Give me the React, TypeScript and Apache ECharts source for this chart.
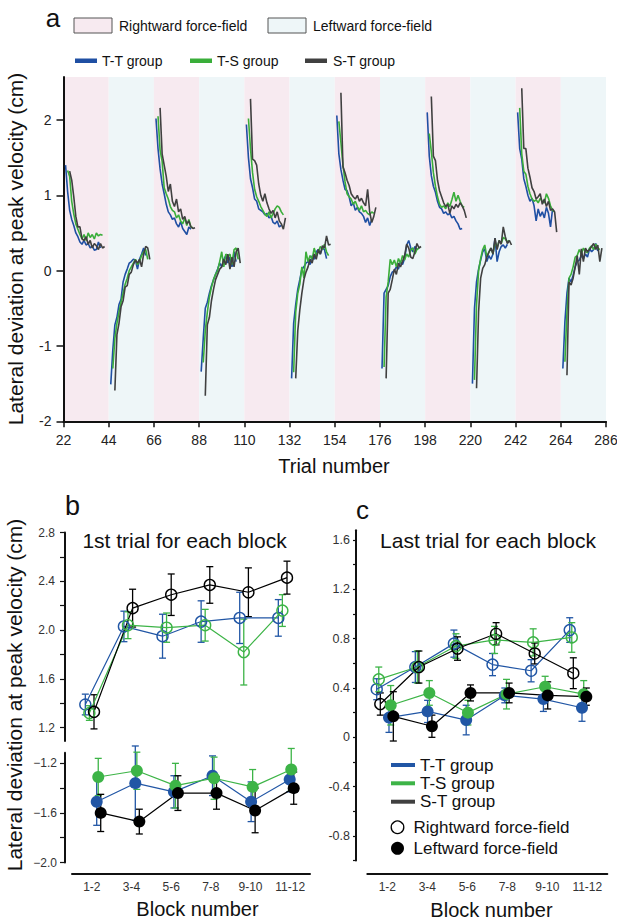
import React, { useEffect, useRef } from "react";
import * as echarts from "echarts";

const FONT = "'Liberation Sans', Arial, Helvetica, sans-serif";
const C_TT = "#1f4fa3";
const C_TS = "#3aae3a";
const C_ST = "#404040";
const C_TT_B = "#2156a5";
const C_TS_B = "#3db447";
const C_ST_B = "#000000";
const PINK = "#f7eaf0";
const ICE = "#eef6f8";

// ---------- Panel a ----------
const A_X_TICKS = [22, 44, 66, 88, 110, 132, 154, 176, 198, 220, 242, 264, 286];
const A_FIELDS = ["R", "L", "R", "L", "R", "L", "R", "L", "R", "L", "R", "L"];
const A_Y_TICKS = [-2, -1, 0, 1, 2];
const BLOCK_STARTS = [23, 45, 67, 89, 111, 133, 155, 177, 199, 221, 243, 265];
const GROUP_TRIAL_OFFSET = [0, 1, 2];

const TT_CURVES = [
  [1.40, 1.05, 0.80, 0.68, 0.60, 0.50, 0.45, 0.38, 0.35, 0.40, 0.34, 0.36, 0.30, 0.33, 0.27, 0.28, 0.38, 0.30],
  [-1.51, -1.05, -0.72, -0.62, -0.45, -0.38, -0.15, -0.05, 0.02, 0.10, 0.12, 0.15, 0.14, 0.02, 0.15, 0.22, 0.30, 0.20],
  [2.02, 1.62, 1.35, 1.15, 1.02, 0.88, 0.78, 0.74, 0.68, 0.70, 0.62, 0.58, 0.65, 0.56, 0.52, 0.48, 0.58, 0.55],
  [-1.34, -0.90, -0.50, -0.42, -0.30, -0.20, -0.12, -0.05, 0.02, 0.10, 0.05, 0.15, 0.20, 0.10, 0.18, 0.05, 0.25, 0.12],
  [1.94, 1.50, 1.22, 1.10, 0.95, 0.92, 0.82, 0.80, 0.78, 0.74, 0.76, 0.70, 0.72, 0.64, 0.62, 0.66, 0.58, 0.60],
  [-1.43, -0.70, -0.45, -0.25, -0.12, 0.02, 0.05, 0.10, 0.12, 0.08, 0.20, 0.15, 0.25, 0.28, 0.22, 0.30, 0.28, 0.16],
  [2.06, 1.55, 1.34, 1.20, 1.08, 1.06, 0.98, 0.86, 0.90, 0.80, 0.84, 0.78, 0.76, 0.72, 0.64, 0.70, 0.60, 0.68],
  [-1.30, -0.30, -0.25, -0.20, -0.08, -0.02, 0.00, 0.05, 0.02, 0.12, 0.08, 0.16, 0.34, 0.40, 0.30, 0.25, 0.32, 0.28],
  [2.10, 1.52, 1.26, 1.12, 1.04, 0.92, 0.84, 0.82, 0.76, 0.78, 0.74, 0.76, 0.70, 0.72, 0.66, 0.62, 0.55, 0.56],
  [-1.50, -0.50, -0.15, 0.02, 0.14, 0.25, 0.29, 0.12, 0.20, 0.15, 0.22, 0.43, 0.12, 0.25, 0.32, 0.34, 0.30, 0.35],
  [2.10, 1.62, 1.48, 1.22, 1.12, 1.00, 0.92, 0.96, 0.86, 0.66, 0.82, 0.72, 0.78, 0.70, 0.84, 0.76, 0.58, 0.82],
  [-1.30, -0.68, -0.30, -0.10, -0.15, -0.06, 0.05, 0.12, 0.14, 0.20, 0.16, 0.22, 0.18, 0.29, 0.25, 0.28, 0.36, 0.26],
];
const TS_CURVES = [
  [1.33, 1.25, 0.92, 0.75, 0.62, 0.55, 0.48, 0.42, 0.48, 0.40, 0.50, 0.44, 0.48, 0.42, 0.50, 0.46, 0.48, 0.47],
  [-1.30, -0.90, -0.70, -0.55, -0.42, -0.30, -0.18, -0.10, 0.00, 0.05, 0.10, 0.15, 0.08, 0.12, 0.20, 0.25, 0.28, 0.15],
  [2.05, 1.60, 1.45, 1.10, 1.02, 0.95, 0.85, 0.80, 0.78, 0.70, 0.74, 0.66, 0.62, 0.70, 0.60, 0.68, 0.58, 0.57],
  [-1.22, -0.80, -0.55, -0.35, -0.22, -0.12, -0.05, 0.00, 0.12, 0.25, 0.05, 0.22, 0.18, 0.22, 0.08, 0.28, 0.30, 0.15],
  [2.02, 1.62, 1.30, 1.08, 0.98, 0.92, 0.85, 0.80, 0.75, 0.72, 0.78, 0.70, 0.76, 0.82, 0.86, 0.84, 0.78, 0.74],
  [-1.35, -0.55, -0.30, -0.18, 0.05, -0.10, 0.25, 0.12, 0.20, 0.15, 0.30, 0.20, 0.25, 0.32, 0.28, 0.35, 0.25, 0.20],
  [1.98, 1.70, 1.40, 1.18, 1.02, 0.98, 0.95, 0.88, 0.92, 0.85, 0.80, 0.86, 0.78, 0.80, 0.76, 0.74, 0.78, 0.76],
  [-1.28, -0.35, -0.15, 0.15, 0.08, 0.14, 0.05, 0.16, 0.10, 0.20, 0.14, 0.22, 0.18, 0.28, 0.30, 0.22, 0.28, 0.30],
  [1.82, 1.58, 1.30, 1.12, 0.98, 0.88, 0.84, 0.86, 0.82, 0.90, 0.85, 0.94, 1.04, 0.92, 1.00, 0.92, 0.86, 0.84],
  [-1.45, -0.45, 0.00, 0.16, 0.28, 0.34, 0.18, 0.25, 0.30, 0.22, 0.38, 0.30, 0.40, 0.36, 0.44, 0.42, 0.38, 0.40],
  [2.16, 1.55, 1.32, 1.28, 1.12, 1.02, 0.95, 0.92, 0.94, 0.90, 0.96, 0.92, 0.90, 1.02, 0.96, 0.86, 0.80, 0.78],
  [-1.21, -0.55, -0.10, -0.05, 0.05, 0.18, 0.20, 0.28, 0.22, 0.30, 0.25, 0.24, 0.30, 0.33, 0.28, 0.35, 0.30, 0.28],
];
const ST_CURVES = [
  [1.32, 1.20, 0.98, 0.72, 0.58, 0.58, 0.42, 0.40, 0.45, 0.35, 0.40, 0.30, 0.36, 0.33, 0.28, 0.36, 0.30, 0.32],
  [-1.59, -0.85, -0.70, -0.48, -0.40, -0.22, -0.20, -0.05, -0.02, 0.08, 0.14, 0.10, 0.15, 0.05, 0.22, 0.32, 0.30, 0.15],
  [2.16, 1.55, 1.40, 1.25, 1.05, 1.15, 0.92, 0.85, 0.95, 0.78, 0.82, 0.68, 0.72, 0.62, 0.66, 0.58, 0.56, 0.57],
  [-1.66, -0.72, -0.62, -0.40, -0.25, -0.12, -0.05, 0.02, 0.05, 0.15, 0.08, 0.22, 0.02, 0.18, 0.05, 0.25, 0.30, 0.10],
  [2.28, 1.48, 1.46, 1.40, 1.15, 1.00, 0.92, 1.02, 0.90, 0.82, 0.76, 0.80, 0.70, 0.78, 0.66, 0.62, 0.55, 0.70],
  [-1.43, -0.80, -0.52, -0.30, -0.12, -0.02, 0.05, 0.15, 0.10, 0.22, 0.15, 0.28, 0.22, 0.33, 0.30, 0.46, 0.34, 0.35],
  [2.36, 1.38, 1.30, 1.20, 1.13, 1.02, 0.98, 0.95, 1.00, 0.92, 0.96, 0.90, 0.86, 1.08, 0.78, 0.64, 0.72, 0.84],
  [-1.43, -0.30, -0.25, -0.12, 0.02, -0.05, 0.10, 0.05, 0.12, 0.20, 0.35, 0.30, 0.18, 0.16, 0.25, 0.36, 0.30, 0.32],
  [2.31, 1.52, 1.46, 1.20, 1.06, 0.98, 0.90, 0.85, 0.88, 0.76, 0.86, 0.82, 0.88, 0.84, 0.90, 0.86, 0.80, 0.70],
  [-1.56, -0.55, -0.10, 0.03, 0.08, 0.18, 0.24, 0.30, 0.22, 0.43, 0.28, 0.40, 0.35, 0.58, 0.45, 0.36, 0.40, 0.34],
  [2.42, 1.62, 1.62, 1.36, 1.24, 1.10, 1.05, 0.95, 0.98, 1.02, 0.88, 0.95, 0.85, 0.92, 0.80, 0.82, 0.78, 0.51],
  [-1.39, -0.15, -0.19, -0.10, 0.05, 0.20, -0.05, 0.29, 0.12, 0.30, 0.25, 0.28, 0.32, 0.36, 0.28, 0.34, 0.12, 0.30],
];

// ---------- Panels b and c ----------
const BLOCK_CATS = ["1-2", "3-4", "5-6", "7-8", "9-10", "11-12"];
const CAT_POS = [1, 2, 3, 4, 5, 6];

const B_R_TT = [1.39, 2.03, 1.95, 2.07, 2.10, 2.10];
const B_R_TT_ERR = [0.085, 0.125, 0.18, 0.17, 0.21, 0.15];
const B_R_TS = [1.32, 2.04, 2.02, 2.04, 1.82, 2.16];
const B_R_TS_ERR = [0.06, 0.11, 0.12, 0.13, 0.27, 0.13];
const B_R_ST = [1.33, 2.18, 2.29, 2.37, 2.31, 2.43];
const B_R_ST_ERR = [0.14, 0.155, 0.17, 0.15, 0.2, 0.135];
const B_L_TT = [-1.51, -1.36, -1.43, -1.30, -1.51, -1.33];
const B_L_TT_ERR = [0.19, 0.3, 0.13, 0.16, 0.16, 0.1];
const B_L_TS = [-1.31, -1.26, -1.38, -1.32, -1.39, -1.25];
const B_L_TS_ERR = [0.15, 0.15, 0.18, 0.17, 0.14, 0.17];
const B_L_ST = [-1.60, -1.67, -1.44, -1.44, -1.58, -1.40];
const B_L_ST_ERR = [0.15, 0.1, 0.14, 0.13, 0.18, 0.13];

const C_R_TT = [0.39, 0.57, 0.76, 0.59, 0.54, 0.87];
const C_R_TT_ERR = [0.085, 0.125, 0.11, 0.09, 0.09, 0.1];
const C_R_TS = [0.47, 0.57, 0.74, 0.79, 0.77, 0.81];
const C_R_TS_ERR = [0.1, 0.13, 0.1, 0.11, 0.11, 0.12];
const C_R_ST = [0.27, 0.57, 0.72, 0.84, 0.68, 0.52];
const C_R_ST_ERR = [0.09, 0.13, 0.095, 0.09, 0.085, 0.125];
const C_L_TT = [0.16, 0.21, 0.14, 0.34, 0.31, 0.24];
const C_L_TT_ERR = [0.12, 0.09, 0.12, 0.06, 0.1, 0.11];
const C_L_TS = [0.26, 0.36, 0.20, 0.35, 0.41, 0.35];
const C_L_TS_ERR = [0.16, 0.1, 0.1, 0.12, 0.085, 0.11];
const C_L_ST = [0.17, 0.09, 0.36, 0.36, 0.34, 0.33];
const C_L_ST_ERR = [0.2, 0.09, 0.065, 0.08, 0.11, 0.07];

const B_UP_TICKS = [1.2, 1.4, 1.6, 1.8, 2.0, 2.2, 2.4, 2.6, 2.8];
const B_UP_LABELS = [1.2, 1.6, 2.0, 2.4, 2.8];
const B_LO_TICKS = [-2.0, -1.8, -1.6, -1.4, -1.2];
const B_LO_LABELS = [-2.0, -1.6, -1.2];
const C_TICKS = [-1.0, -0.8, -0.6, -0.4, -0.2, 0, 0.2, 0.4, 0.6, 0.8, 1.0, 1.2, 1.4, 1.6];
const C_LABELS = [-0.8, -0.4, 0, 0.4, 0.8, 1.2, 1.6];

function txt(text: string, x: number, y: number, size: number, extra: any = {}) {
  const { align, rotation, fill } = extra;
  return {
    type: "text",
    x,
    y,
    rotation: rotation || 0,
    silent: true,
    style: {
      text,
      fontSize: size,
      fontFamily: FONT,
      fill: fill || "#111",
      align: align || "center",
      verticalAlign: "middle",
    },
  };
}

function errSeries(xi: number, yi: number, xs: number[], ys: number[], es: number[], color: string) {
  return {
    type: "custom",
    xAxisIndex: xi,
    yAxisIndex: yi,
    z: 3,
    silent: true,
    clip: false,
    data: ys.map((y, i) => [xs[i], y, es[i]]),
    encode: { x: 0, y: 1 },
    renderItem: (_p: any, api: any) => {
      const x = api.value(0);
      const y = api.value(1);
      const e = api.value(2);
      const t = api.coord([x, y + e]);
      const b = api.coord([x, y - e]);
      const w = 3.5;
      const st = { stroke: color, lineWidth: 1.3 };
      return {
        type: "group",
        children: [
          { type: "line", shape: { x1: t[0], y1: t[1], x2: b[0], y2: b[1] }, style: st },
          { type: "line", shape: { x1: t[0] - w, y1: t[1], x2: t[0] + w, y2: t[1] }, style: st },
          { type: "line", shape: { x1: b[0] - w, y1: b[1], x2: b[0] + w, y2: b[1] }, style: st },
        ],
      };
    },
  };
}

function pointSeries(xi: number, yi: number, xs: number[], ys: number[], color: string, filled: boolean) {
  return {
    type: "line",
    xAxisIndex: xi,
    yAxisIndex: yi,
    z: 4,
    silent: true,
    data: ys.map((y, i) => [xs[i], y]),
    symbol: "circle",
    symbolSize: filled ? 12 : 11,
    showSymbol: true,
    lineStyle: { color, width: 1.2 },
    itemStyle: filled
      ? { color }
      : { color: "rgba(255,255,255,0)", borderColor: color, borderWidth: 1.4 },
  };
}

function buildOption() {
  const axisLineStyle = { onZero: false, lineStyle: { color: "#111", width: 2 } };
  const series: any[] = [];

  // background force-field bands in panel a
  series.push({
    type: "custom",
    xAxisIndex: 0,
    yAxisIndex: 0,
    z: 0,
    silent: true,
    data: A_FIELDS.map((f, i) => [A_X_TICKS[i], A_X_TICKS[i + 1], f === "R" ? 0 : 1]),
    encode: { x: [0, 1] },
    renderItem: (_p: any, api: any) => {
      const p0 = api.coord([api.value(0), 2.57]);
      const p1 = api.coord([api.value(1), -2]);
      return {
        type: "rect",
        shape: { x: p0[0], y: p0[1], width: p1[0] - p0[0], height: p1[1] - p0[1] },
        style: { fill: api.value(2) === 0 ? PINK : ICE },
      };
    },
  });

  const groups = [
    { curves: TT_CURVES, color: C_TT, off: GROUP_TRIAL_OFFSET[0] },
    { curves: TS_CURVES, color: C_TS, off: GROUP_TRIAL_OFFSET[1] },
    { curves: ST_CURVES, color: C_ST, off: GROUP_TRIAL_OFFSET[2] },
  ];
  groups.forEach((g) =>
    g.curves.forEach((vals, k) =>
      series.push({
        type: "line",
        xAxisIndex: 0,
        yAxisIndex: 0,
        z: 2,
        silent: true,
        symbol: "none",
        showSymbol: false,
        lineStyle: { color: g.color, width: 1.6 },
        data: vals.map((v, i) => [BLOCK_STARTS[k] + g.off + i, v]),
      })
    )
  );

  // panel b
  const jb = (d: number) => CAT_POS.map((p) => p + d);
  const bUp = [
    { ys: B_R_TT, es: B_R_TT_ERR, c: C_TT_B, d: -0.225 },
    { ys: B_R_TS, es: B_R_TS_ERR, c: C_TS_B, d: -0.12 },
    { ys: B_R_ST, es: B_R_ST_ERR, c: C_ST_B, d: 0 },
  ];
  const bLo = [
    { ys: B_L_TT, es: B_L_TT_ERR, c: C_TT_B, d: 0.07 },
    { ys: B_L_TS, es: B_L_TS_ERR, c: C_TS_B, d: 0.11 },
    { ys: B_L_ST, es: B_L_ST_ERR, c: C_ST_B, d: 0.174 },
  ];
  bUp.forEach((s) => {
    series.push(errSeries(1, 1, jb(s.d), s.ys, s.es, s.c));
    series.push(pointSeries(1, 1, jb(s.d), s.ys, s.c, false));
  });
  bLo.forEach((s) => {
    series.push(errSeries(2, 2, jb(s.d), s.ys, s.es, s.c));
    series.push(pointSeries(2, 2, jb(s.d), s.ys, s.c, true));
  });

  // panel c
  const cOpen = [
    { ys: C_R_TT, es: C_R_TT_ERR, c: C_TT_B, d: -0.093 },
    { ys: C_R_TS, es: C_R_TS_ERR, c: C_TS_B, d: -0.04 },
    { ys: C_R_ST, es: C_R_ST_ERR, c: C_ST_B, d: 0 },
  ];
  const cFill = [
    { ys: C_L_TT, es: C_L_TT_ERR, c: C_TT_B, d: 0.225 },
    { ys: C_L_TS, es: C_L_TS_ERR, c: C_TS_B, d: 0.27 },
    { ys: C_L_ST, es: C_L_ST_ERR, c: C_ST_B, d: 0.337 },
  ];
  cOpen.forEach((s) => {
    series.push(errSeries(4, 3, jb(s.d), s.ys, s.es, s.c));
    series.push(pointSeries(4, 3, jb(s.d), s.ys, s.c, false));
  });
  cFill.forEach((s) => {
    series.push(errSeries(4, 3, jb(s.d), s.ys, s.es, s.c));
    series.push(pointSeries(4, 3, jb(s.d), s.ys, s.c, true));
  });

  const labelBase = { fontFamily: FONT, color: "#222" };
  const hiddenX = (gi: number, min: number, max: number) => ({
    type: "value",
    gridIndex: gi,
    min,
    max,
    show: false,
    axisLine: { onZero: false },
    splitLine: { show: false },
  });
  const catX = (gi: number, offset: number) => ({
    type: "category",
    gridIndex: gi,
    data: BLOCK_CATS,
    position: "bottom",
    offset,
    boundaryGap: true,
    axisLine: axisLineStyle,
    axisTick: { alignWithLabel: true, length: 3, lineStyle: { color: "#111", width: 1.2 } },
    axisLabel: { ...labelBase, fontSize: 12, margin: 7, color: "#333", interval: 0 },
    splitLine: { show: false },
  });

  const graphic: any[] = [
    // panel a header
    txt("a", 53, 18, 26),
    { type: "rect", shape: { x: 74, y: 18, width: 38, height: 15 }, style: { fill: PINK, stroke: "#555", lineWidth: 1 } },
    txt("Rightward force-field", 119, 26, 14, { align: "left" }),
    { type: "rect", shape: { x: 268, y: 18, width: 38, height: 15 }, style: { fill: ICE, stroke: "#555", lineWidth: 1 } },
    txt("Leftward force-field", 313, 26, 14, { align: "left" }),
    { type: "rect", shape: { x: 75, y: 58.5, width: 22, height: 4.5 }, style: { fill: C_TT } },
    txt("T-T group", 102, 61, 14, { align: "left" }),
    { type: "rect", shape: { x: 190, y: 58.5, width: 22, height: 4.5 }, style: { fill: C_TS } },
    txt("T-S group", 217, 61, 14, { align: "left" }),
    { type: "rect", shape: { x: 305, y: 58.5, width: 22, height: 4.5 }, style: { fill: C_ST } },
    txt("S-T group", 333, 61, 14, { align: "left" }),
    txt("Lateral deviation at peak velocity (cm)", 15, 249, 21, { rotation: Math.PI / 2 }),
    txt("Trial number", 334, 466, 20),
    // panel b
    txt("b", 72.5, 506, 27),
    txt("1st trial for each block", 184.5, 540, 21),
    txt("Lateral deviation at peak velocity (cm)", 14, 695, 21, { rotation: Math.PI / 2 }),
    txt("Block number", 197.5, 909, 20),
    // panel c
    txt("c", 362.5, 510, 26),
    txt("Last trial for each block", 488, 540, 21),
    txt("Block number", 491.5, 910, 20),
    { type: "rect", shape: { x: 391, y: 763, width: 24, height: 4 }, style: { fill: C_TT_B } },
    txt("T-T group", 420, 765, 17, { align: "left" }),
    { type: "rect", shape: { x: 391, y: 781.3, width: 24, height: 4 }, style: { fill: C_TS_B } },
    txt("T-S group", 420, 783.3, 17, { align: "left" }),
    { type: "rect", shape: { x: 391, y: 799.7, width: 24, height: 4 }, style: { fill: C_ST } },
    txt("S-T group", 420, 801.7, 17, { align: "left" }),
    { type: "circle", shape: { cx: 397.5, cy: 827.3, r: 6.3 }, style: { fill: "#fff", stroke: "#000", lineWidth: 1.3 } },
    txt("Rightward force-field", 413.5, 827.3, 17, { align: "left" }),
    { type: "circle", shape: { cx: 397.5, cy: 848.3, r: 6.5 }, style: { fill: "#000" } },
    txt("Leftward force-field", 413.5, 848.3, 17, { align: "left" }),
  ];

  return {
    animation: false,
    backgroundColor: "#ffffff",
    textStyle: { fontFamily: FONT },
    grid: [
      { left: 63.5, top: 77, width: 542.5, height: 344.3, outerBoundsMode: "none", containLabel: false },
      { left: 72, top: 532.5, width: 238, height: 208.6, outerBoundsMode: "none", containLabel: false },
      { left: 72, top: 752.8, width: 238, height: 109.7, outerBoundsMode: "none", containLabel: false },
      { left: 367.3, top: 530.2, width: 240, height: 330.4, outerBoundsMode: "none", containLabel: false },
    ],
    xAxis: [
      {
        type: "value",
        gridIndex: 0,
        min: 22,
        max: 286,
        interval: 22,
        axisLine: axisLineStyle,
        axisTick: { length: 6, lineStyle: { color: "#111", width: 1.5 } },
        axisLabel: { ...labelBase, fontSize: 14, margin: 12 },
        splitLine: { show: false },
      },
      hiddenX(1, 0.43, 6.5958),
      hiddenX(2, 0.43, 6.5958),
      catX(2, 11.5),
      hiddenX(3, 0.663, 6.8806),
      catX(3, 13.4),
    ],
    yAxis: [
      {
        type: "value",
        gridIndex: 0,
        min: -2,
        max: 2.57,
        axisLine: { show: true, ...axisLineStyle },
        axisTick: { show: true, length: 7, customValues: A_Y_TICKS, lineStyle: { color: "#111", width: 1.5 } },
        axisLabel: { ...labelBase, fontSize: 14, margin: 12, customValues: A_Y_TICKS, formatter: (v: number) => String(v) },
        splitLine: { show: false },
      },
      {
        type: "value",
        gridIndex: 1,
        min: 1.09,
        max: 2.8,
        offset: 7,
        axisLine: { show: true, ...axisLineStyle },
        axisTick: { show: true, length: 5, customValues: B_UP_TICKS, lineStyle: { color: "#111", width: 1.2 } },
        axisLabel: { ...labelBase, color: "#333", fontSize: 12, margin: 10, customValues: B_UP_LABELS, formatter: (v: number) => v.toFixed(1) },
        splitLine: { show: false },
      },
      {
        type: "value",
        gridIndex: 2,
        min: -2.0,
        max: -1.115,
        offset: 7,
        axisLine: { show: true, ...axisLineStyle },
        axisTick: { show: true, length: 5, customValues: B_LO_TICKS, lineStyle: { color: "#111", width: 1.2 } },
        axisLabel: {
          ...labelBase,
          color: "#333",
          fontSize: 12,
          margin: 8,
          customValues: B_LO_LABELS,
          formatter: (v: number) => "\u2212" + Math.abs(v).toFixed(1),
        },
        splitLine: { show: false },
      },
      {
        type: "value",
        gridIndex: 3,
        min: -1.0,
        max: 1.68,
        offset: 11.3,
        axisLine: { show: true, ...axisLineStyle },
        axisTick: { show: true, length: 3, customValues: C_TICKS, lineStyle: { color: "#111", width: 1.2 } },
        axisLabel: {
          ...labelBase,
          color: "#333",
          fontSize: 12.5,
          margin: 6,
          customValues: C_LABELS,
          formatter: (v: number) => (Math.abs(v) < 1e-9 ? "0" : v.toFixed(1)),
        },
        splitLine: { show: false },
      },
    ],
    graphic,
    series,
  };
}

export default function App() {
  const ref = useRef<HTMLDivElement>(null);
  useEffect(() => {
    document.body.style.margin = "0";
    document.body.style.overflow = "hidden";
    const chart = echarts.init(ref.current as HTMLDivElement, null, { renderer: "svg" });
    chart.setOption(buildOption() as any);
    return () => chart.dispose();
  }, []);
  return <div ref={ref} style={{ width: 617, height: 924, background: "#fff" }} />;
}
